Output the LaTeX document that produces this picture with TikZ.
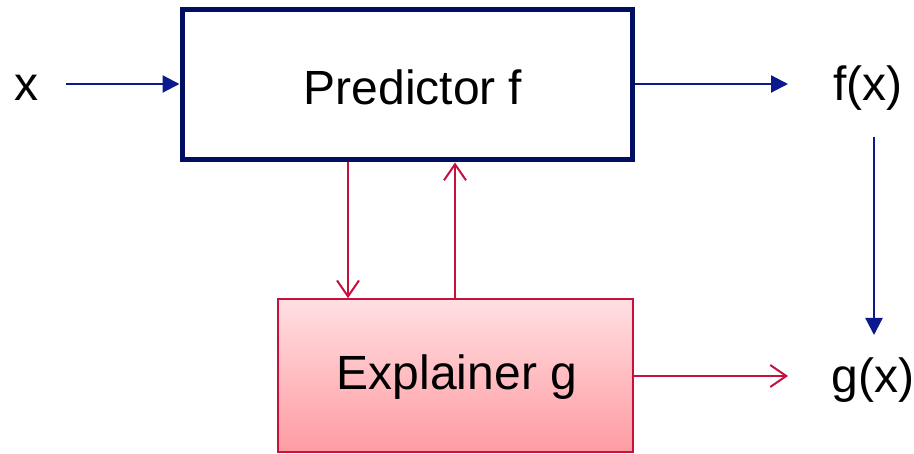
\documentclass[tikz,border=0pt]{standalone}
\usepackage{fontspec}
\setmainfont{Liberation Sans}
\usetikzlibrary{arrows.meta}
\definecolor{navy}{HTML}{000F62}
\definecolor{ablue}{HTML}{0A1A8C}
\definecolor{ared}{HTML}{C8103C}
\definecolor{ptop}{HTML}{FFDFE2}
\definecolor{pbot}{HTML}{FF9BA2}
\begin{document}
\begin{tikzpicture}[x=1pt,y=-1pt,
  lbl/.style={font=\fontsize{48}{56}\selectfont, inner sep=0pt},
  barrow/.style={draw=ablue, line width=2.2pt, -{Triangle[length=17pt,width=17pt]}},
  rarrow/.style={draw=ared, line width=2pt, -{Straight Barb[length=16pt,width=22pt,line width=2pt]}}]
\useasboundingbox (0,0) rectangle (914,454);
\node[draw=navy, line width=5pt, minimum width=450pt, minimum height=150pt, inner sep=0pt] (pred) at (407,85) {};
\node[lbl] at (413,87) {Predictor f};
\node[draw=ared, line width=1.6pt, top color=ptop, bottom color=pbot, minimum width=355pt, minimum height=153pt, inner sep=0pt] (expl) at (455.5,375.5) {};
\node[lbl] at (457,377) {Explainer g};
\node[lbl, anchor=base] (x) at (26,101) {x};
\node[lbl, anchor=base] (fx) at (868,101) {f(x)};
\node[lbl, anchor=base] (gx) at (873,393) {g(x)};
\coordinate (xs) at (66,84);
\coordinate (fxs) at (788,84);
\coordinate (gxs) at (788,376);
\coordinate (fd) at (874,137);
\coordinate (gu) at (874,335);
\draw[barrow] (xs) -- (pred.west |- xs);
\draw[barrow] (pred.east |- xs) -- (fxs);
\draw[barrow] (fd) -- (gu);
\draw[rarrow] (pred.south -| 348,0) -- (expl.north -| 348,0);
\draw[rarrow] (expl.north -| 455,0) -- (pred.south -| 455,0);
\draw[rarrow] (expl.east |- gxs) -- (gxs);
\end{tikzpicture}
\end{document}
